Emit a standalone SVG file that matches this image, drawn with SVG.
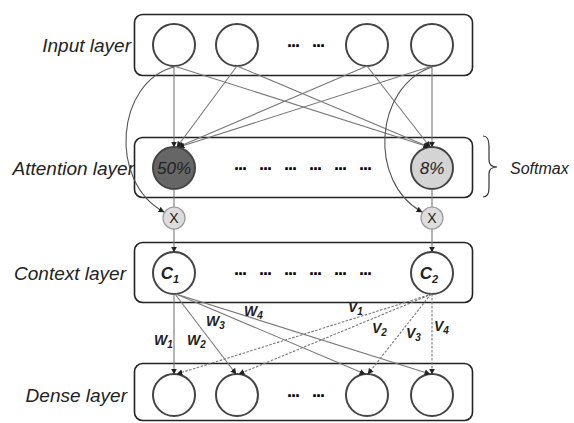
<svg xmlns="http://www.w3.org/2000/svg" width="574" height="423" viewBox="0 0 574 423">
<style>
.box{fill:none;stroke:#222;stroke-width:1.6}
.nd{fill:#fff;stroke:#444;stroke-width:2}
.lbl{font-family:"Liberation Sans",Arial,sans-serif;font-style:italic;font-size:19px;fill:#222}
.wl{font-family:"Liberation Sans",Arial,sans-serif;font-style:italic;font-weight:bold;font-size:14px;fill:#222}
.dots{font-family:"Liberation Sans",Arial,sans-serif;font-weight:bold;font-size:18px;fill:#000;letter-spacing:-1px;word-spacing:9px}
.ln{fill:none;stroke:#777;stroke-width:1.1}
.dl{fill:none;stroke:#777;stroke-width:1.1;stroke-dasharray:2.5,1.5}
.cv{fill:none;stroke:#555;stroke-width:1.1}
</style>
<defs>
<marker id="ah" viewBox="0 0 10 10" refX="9" refY="5" markerWidth="6" markerHeight="6" orient="auto" markerUnits="userSpaceOnUse">
<path d="M0,0 L10,5 L0,10 z" fill="#222"/>
</marker>
</defs>

<g id="labels">
<text class="lbl" x="131" y="52" text-anchor="end">Input layer</text>
<text class="lbl" x="134" y="175" text-anchor="end">Attention layer</text>
<text class="lbl" x="126" y="280" text-anchor="end">Context layer</text>
<text class="lbl" x="127" y="402" text-anchor="end">Dense layer</text>
</g>

<g id="input-layer">
<rect class="box" x="134.5" y="14.5" width="338" height="61" rx="8"/>
<circle class="nd" cx="174" cy="45" r="21"/>
<circle class="nd" cx="237" cy="45" r="21"/>
<text class="dots" x="287" y="47">... ...</text>
<circle class="nd" cx="367" cy="45" r="21"/>
<circle class="nd" cx="432" cy="45" r="21"/>
</g>

<g id="attention-layer">
<rect class="box" x="134.5" y="137.5" width="338" height="60" rx="8"/>
<circle cx="174" cy="168" r="21" fill="#666" stroke="#444" stroke-width="2"/>
<text class="lbl" x="174" y="174" text-anchor="middle" style="font-size:17px">50%</text>
<text class="dots" x="234" y="170">... ... ... ... ... ...</text>
<circle cx="432" cy="168" r="21" fill="#d4d4d4" stroke="#444" stroke-width="2"/>
<text class="lbl" x="432" y="174" text-anchor="middle" style="font-size:17px">8%</text>
</g>

<g id="softmax">
<path d="M483,136 Q489,136 489,146 L489,160 Q489,167 497,167 Q489,167 489,174 L489,188 Q489,197 483,197" fill="none" stroke="#333" stroke-width="1.2"/>
<text class="lbl" x="510" y="174" style="font-size:16px">Softmax</text>
</g>

<g id="multiply">
<circle cx="174" cy="218" r="11" fill="#ddd" stroke="#999" stroke-width="1.2"/>
<text x="174" y="223" text-anchor="middle" font-family="Liberation Sans,Arial,sans-serif" font-size="14" fill="#222">X</text>
<circle cx="432" cy="218" r="11" fill="#ddd" stroke="#999" stroke-width="1.2"/>
<text x="432" y="223" text-anchor="middle" font-family="Liberation Sans,Arial,sans-serif" font-size="14" fill="#222">X</text>
</g>

<g id="context-layer">
<rect class="box" x="134.5" y="242.5" width="338" height="60" rx="8"/>
<circle class="nd" cx="174" cy="273" r="21"/>
<text class="wl" x="170" y="279" text-anchor="middle" style="font-size:17px">C<tspan font-size="11" dy="4">1</tspan></text>
<text class="dots" x="234" y="275">... ... ... ... ... ...</text>
<circle class="nd" cx="432" cy="273" r="21"/>
<text class="wl" x="429" y="279" text-anchor="middle" style="font-size:17px">C<tspan font-size="11" dy="4">2</tspan></text>
</g>

<g id="dense-layer">
<rect class="box" x="134.5" y="363.5" width="338" height="57" rx="8"/>
<circle class="nd" cx="174" cy="395" r="21"/>
<circle class="nd" cx="237" cy="395" r="21"/>
<text class="dots" x="287" y="397">... ...</text>
<circle class="nd" cx="367" cy="395" r="21"/>
<circle class="nd" cx="432" cy="395" r="21"/>
</g>

<g id="connectors">
<line class="ln" x1="174" y1="66" x2="174" y2="147" marker-end="url(#ah)"/>
<line class="ln" x1="237" y1="66" x2="177" y2="147" marker-end="url(#ah)"/>
<line class="ln" x1="367" y1="66" x2="178" y2="147" marker-end="url(#ah)"/>
<line class="ln" x1="432" y1="66" x2="179" y2="147" marker-end="url(#ah)"/>
<line class="ln" x1="174" y1="66" x2="429" y2="147" marker-end="url(#ah)"/>
<line class="ln" x1="237" y1="66" x2="429" y2="147" marker-end="url(#ah)"/>
<line class="ln" x1="367" y1="66" x2="430" y2="147" marker-end="url(#ah)"/>
<line class="ln" x1="432" y1="66" x2="432" y2="147" marker-end="url(#ah)"/>
<path class="cv" d="M174,67 C116,82 108,182 164,212" marker-end="url(#ah)"/>
<path class="cv" d="M432,67 C374,87 368,182 422,212" marker-end="url(#ah)"/>
<line class="ln" x1="174" y1="189" x2="174" y2="207"/>
<line class="ln" x1="432" y1="189" x2="432" y2="207"/>
<line class="ln" x1="174" y1="229" x2="174" y2="252" marker-end="url(#ah)"/>
<line class="ln" x1="432" y1="229" x2="432" y2="252" marker-end="url(#ah)"/>
<line class="ln" x1="174" y1="294" x2="174" y2="374" marker-end="url(#ah)"/>
<line class="ln" x1="175" y1="294" x2="236" y2="374" marker-end="url(#ah)"/>
<line class="ln" x1="176" y1="294" x2="365" y2="374" marker-end="url(#ah)"/>
<line class="ln" x1="176" y1="294" x2="430" y2="374" marker-end="url(#ah)"/>
<line class="dl" x1="432" y1="294" x2="177" y2="374" marker-end="url(#ah)"/>
<line class="dl" x1="432" y1="294" x2="239" y2="374" marker-end="url(#ah)"/>
<line class="dl" x1="431" y1="294" x2="368" y2="374" marker-end="url(#ah)"/>
<line class="dl" x1="432" y1="294" x2="432" y2="374" marker-end="url(#ah)"/>
</g>

<g id="weight-labels">
<text class="wl" x="154" y="345">W<tspan font-size="10" dy="3">1</tspan></text>
<text class="wl" x="187" y="345">W<tspan font-size="10" dy="3">2</tspan></text>
<text class="wl" x="206" y="326">W<tspan font-size="10" dy="3">3</tspan></text>
<text class="wl" x="244" y="316">W<tspan font-size="10" dy="3">4</tspan></text>
<text class="wl" x="348" y="312">V<tspan font-size="10" dy="3">1</tspan></text>
<text class="wl" x="372" y="333">V<tspan font-size="10" dy="3">2</tspan></text>
<text class="wl" x="406" y="338">V<tspan font-size="10" dy="3">3</tspan></text>
<text class="wl" x="434" y="331">V<tspan font-size="10" dy="3">4</tspan></text>
</g>
</svg>
